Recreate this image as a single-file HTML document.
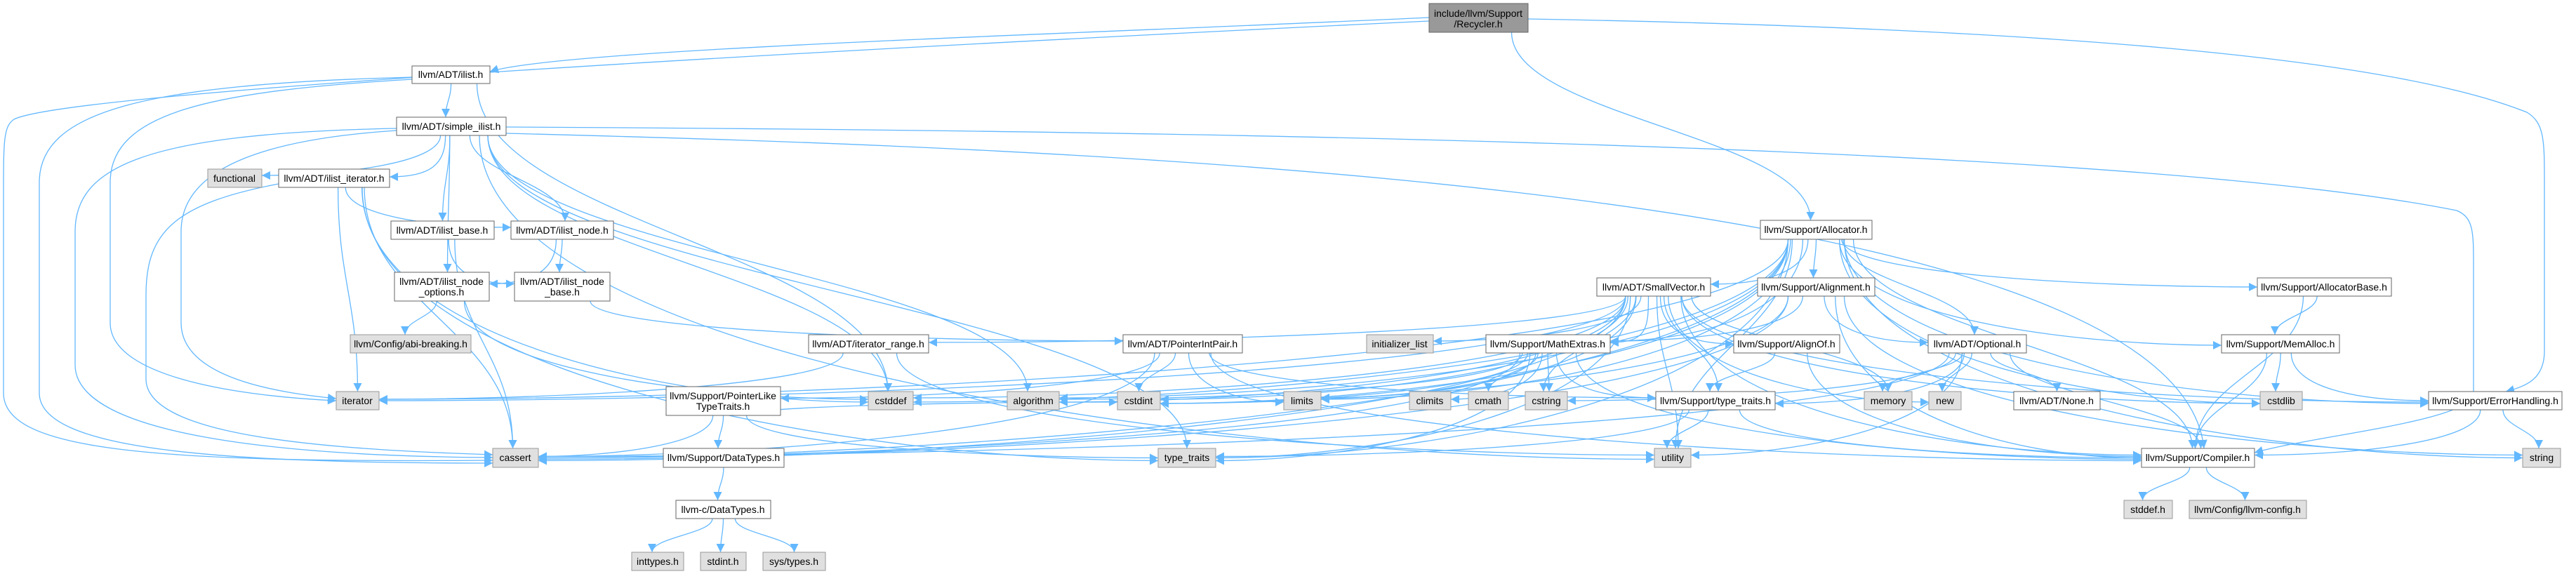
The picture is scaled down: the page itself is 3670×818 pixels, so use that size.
<!DOCTYPE html>
<html><head><meta charset="utf-8"><style>
html,body{margin:0;padding:0;background:#fff;}
svg{display:block;}
text{font-family:"Liberation Sans",Arial,sans-serif;font-size:14px;fill:#000;}
</style></head><body>
<svg id="g" width="3670" height="818" viewBox="0 0 3670 818" xmlns="http://www.w3.org/2000/svg">
<defs><marker id="a" viewBox="0 0 10 10" refX="10" refY="5" markerWidth="14" markerHeight="12" markerUnits="userSpaceOnUse" orient="auto"><path d="M0,0 L10,5 L0,10 z" fill="#63b8ff"/></marker></defs>
<g id="edges" fill="none" stroke="#63b8ff" stroke-width="1.3"></g>
<g id="nodes">
<rect x="2036" y="5" width="141" height="41" fill="#999" stroke="#666"/><text x="2106" y="24" text-anchor="middle">include/llvm/Support</text><text x="2106" y="39" text-anchor="middle">/Recycler.h</text>
<rect x="587" y="94" width="111" height="25" fill="#fff" stroke="#666"/><text x="642" y="111" text-anchor="middle">llvm/ADT/ilist.h</text>
<rect x="565" y="167" width="156" height="26" fill="#fff" stroke="#666"/><text x="643" y="185" text-anchor="middle">llvm/ADT/simple_ilist.h</text>
<rect x="296" y="241" width="77" height="26" fill="#e0e0e0" stroke="#999"/><text x="334" y="259" text-anchor="middle">functional</text>
<rect x="397" y="241" width="158" height="26" fill="#fff" stroke="#666"/><text x="476" y="259" text-anchor="middle">llvm/ADT/ilist_iterator.h</text>
<rect x="557" y="315" width="147" height="26" fill="#fff" stroke="#666"/><text x="630" y="333" text-anchor="middle">llvm/ADT/ilist_base.h</text>
<rect x="728" y="315" width="146" height="26" fill="#fff" stroke="#666"/><text x="801" y="333" text-anchor="middle">llvm/ADT/ilist_node.h</text>
<rect x="562" y="388" width="135" height="41" fill="#fff" stroke="#666"/><text x="629" y="406" text-anchor="middle">llvm/ADT/ilist_node</text><text x="629" y="421" text-anchor="middle">_options.h</text>
<rect x="733" y="388" width="136" height="41" fill="#fff" stroke="#666"/><text x="801" y="406" text-anchor="middle">llvm/ADT/ilist_node</text><text x="801" y="421" text-anchor="middle">_base.h</text>
<rect x="499" y="477" width="172" height="26" fill="#e0e0e0" stroke="#999"/><text x="585" y="495" text-anchor="middle">llvm/Config/abi-breaking.h</text>
<rect x="479" y="558" width="61" height="26" fill="#e0e0e0" stroke="#999"/><text x="509" y="576" text-anchor="middle">iterator</text>
<rect x="702" y="639" width="65" height="27" fill="#e0e0e0" stroke="#999"/><text x="734" y="657" text-anchor="middle">cassert</text>
<rect x="1152" y="477" width="171" height="26" fill="#fff" stroke="#666"/><text x="1237" y="495" text-anchor="middle">llvm/ADT/iterator_range.h</text>
<rect x="1600" y="477" width="170" height="26" fill="#fff" stroke="#666"/><text x="1685" y="495" text-anchor="middle">llvm/ADT/PointerIntPair.h</text>
<rect x="949" y="551" width="163" height="41" fill="#fff" stroke="#666"/><text x="1030" y="569" text-anchor="middle">llvm/Support/PointerLike</text><text x="1030" y="584" text-anchor="middle">TypeTraits.h</text>
<rect x="1237" y="558" width="64" height="26" fill="#e0e0e0" stroke="#999"/><text x="1269" y="576" text-anchor="middle">cstddef</text>
<rect x="1435" y="558" width="74" height="26" fill="#e0e0e0" stroke="#999"/><text x="1472" y="576" text-anchor="middle">algorithm</text>
<rect x="1592" y="558" width="61" height="26" fill="#e0e0e0" stroke="#999"/><text x="1622" y="576" text-anchor="middle">cstdint</text>
<rect x="945" y="639" width="172" height="27" fill="#fff" stroke="#666"/><text x="1031" y="657" text-anchor="middle">llvm/Support/DataTypes.h</text>
<rect x="1650" y="639" width="82" height="27" fill="#e0e0e0" stroke="#999"/><text x="1691" y="657" text-anchor="middle">type_traits</text>
<rect x="963" y="713" width="135" height="26" fill="#fff" stroke="#666"/><text x="1030" y="731" text-anchor="middle">llvm-c/DataTypes.h</text>
<rect x="900" y="787" width="74" height="26" fill="#e0e0e0" stroke="#999"/><text x="937" y="805" text-anchor="middle">inttypes.h</text>
<rect x="998" y="787" width="65" height="26" fill="#e0e0e0" stroke="#999"/><text x="1030" y="805" text-anchor="middle">stdint.h</text>
<rect x="1087" y="787" width="89" height="26" fill="#e0e0e0" stroke="#999"/><text x="1131" y="805" text-anchor="middle">sys/types.h</text>
<rect x="2508" y="314" width="159" height="27" fill="#fff" stroke="#666"/><text x="2587" y="332" text-anchor="middle">llvm/Support/Allocator.h</text>
<rect x="2275" y="396" width="162" height="26" fill="#fff" stroke="#666"/><text x="2356" y="414" text-anchor="middle">llvm/ADT/SmallVector.h</text>
<rect x="2504" y="396" width="167" height="26" fill="#fff" stroke="#666"/><text x="2587" y="414" text-anchor="middle">llvm/Support/Alignment.h</text>
<rect x="1947" y="477" width="95" height="26" fill="#e0e0e0" stroke="#999"/><text x="1994" y="495" text-anchor="middle">initializer_list</text>
<rect x="2117" y="477" width="177" height="26" fill="#fff" stroke="#666"/><text x="2205" y="495" text-anchor="middle">llvm/Support/MathExtras.h</text>
<rect x="2470" y="477" width="151" height="26" fill="#fff" stroke="#666"/><text x="2545" y="495" text-anchor="middle">llvm/Support/AlignOf.h</text>
<rect x="1829" y="558" width="53" height="26" fill="#e0e0e0" stroke="#999"/><text x="1855" y="576" text-anchor="middle">limits</text>
<rect x="2008" y="558" width="59" height="26" fill="#e0e0e0" stroke="#999"/><text x="2037" y="576" text-anchor="middle">climits</text>
<rect x="2092" y="558" width="57" height="26" fill="#e0e0e0" stroke="#999"/><text x="2120" y="576" text-anchor="middle">cmath</text>
<rect x="2173" y="558" width="60" height="26" fill="#e0e0e0" stroke="#999"/><text x="2203" y="576" text-anchor="middle">cstring</text>
<rect x="2359" y="558" width="170" height="26" fill="#fff" stroke="#666"/><text x="2444" y="576" text-anchor="middle">llvm/Support/type_traits.h</text>
<rect x="2656" y="558" width="68" height="26" fill="#e0e0e0" stroke="#999"/><text x="2690" y="576" text-anchor="middle">memory</text>
<rect x="2357" y="639" width="52" height="27" fill="#e0e0e0" stroke="#999"/><text x="2383" y="657" text-anchor="middle">utility</text>
<rect x="2747" y="477" width="140" height="26" fill="#fff" stroke="#666"/><text x="2817" y="495" text-anchor="middle">llvm/ADT/Optional.h</text>
<rect x="2748" y="558" width="46" height="26" fill="#e0e0e0" stroke="#999"/><text x="2771" y="576" text-anchor="middle">new</text>
<rect x="2869" y="558" width="123" height="26" fill="#fff" stroke="#666"/><text x="2930" y="576" text-anchor="middle">llvm/ADT/None.h</text>
<rect x="3165" y="477" width="168" height="26" fill="#fff" stroke="#666"/><text x="3249" y="495" text-anchor="middle">llvm/Support/MemAlloc.h</text>
<rect x="3216" y="396" width="191" height="26" fill="#fff" stroke="#666"/><text x="3311" y="414" text-anchor="middle">llvm/Support/AllocatorBase.h</text>
<rect x="3220" y="558" width="60" height="26" fill="#e0e0e0" stroke="#999"/><text x="3250" y="576" text-anchor="middle">cstdlib</text>
<rect x="3460" y="558" width="190" height="26" fill="#fff" stroke="#666"/><text x="3555" y="576" text-anchor="middle">llvm/Support/ErrorHandling.h</text>
<rect x="3051" y="639" width="161" height="27" fill="#fff" stroke="#666"/><text x="3131" y="657" text-anchor="middle">llvm/Support/Compiler.h</text>
<rect x="3594" y="639" width="54" height="27" fill="#e0e0e0" stroke="#999"/><text x="3621" y="657" text-anchor="middle">string</text>
<rect x="3026" y="713" width="69" height="26" fill="#e0e0e0" stroke="#999"/><text x="3060" y="731" text-anchor="middle">stddef.h</text>
<rect x="3119" y="713" width="167" height="26" fill="#e0e0e0" stroke="#999"/><text x="3202" y="731" text-anchor="middle">llvm/Config/llvm-config.h</text>
</g>
</svg>
<script>
var N={R:[2036,5,2177,46],ilist:[587,94,698,119],sil:[565,167,721,193],func:[296,241,373,267],iit:[397,241,555,267],ibase:[557,315,704,341],inode:[728,315,874,341],iopt:[562,388,697,429],inb:[733,388,869,429],abi:[499,477,671,503],iter:[479,558,540,584],cassert:[702,639,767,666],irange:[1152,477,1323,503],pip:[1600,477,1770,503],plt:[949,551,1112,592],cstddef:[1237,558,1301,584],algorithm:[1435,558,1509,584],cstdint:[1592,558,1653,584],dt:[945,639,1117,666],tt:[1650,639,1732,666],cdt:[963,713,1098,739],inttypes:[900,787,974,813],stdint:[998,787,1063,813],systypes:[1087,787,1176,813],alloc:[2508,314,2667,341],sv:[2275,396,2437,422],align:[2504,396,2671,422],initl:[1947,477,2042,503],math:[2117,477,2294,503],alignof:[2470,477,2621,503],limits:[1829,558,1882,584],climits:[2008,558,2067,584],cmath:[2092,558,2149,584],cstring:[2173,558,2233,584],stt:[2359,558,2529,584],memory:[2656,558,2724,584],utility:[2357,639,2409,666],opt:[2747,477,2887,503],"new":[2748,558,2794,584],none:[2869,558,2992,584],memalloc:[3165,477,3333,503],abase:[3216,396,3407,422],cstdlib:[3220,558,3280,584],eh:[3460,558,3650,584],comp:[3051,639,3212,666],string:[3594,639,3648,666],stddef:[3026,713,3095,739],lcfg:[3119,713,3286,739]};
var E={R:"alloc",ilist:"sil cstddef",sil:"func iit ibase inode iopt algorithm cstddef tt utility",iit:"inode cassert iter cstddef tt",ibase:"inb cassert",inode:"iopt inb",iopt:"abi cstddef",inb:"pip",
alloc:"sv align abase memalloc eh comp opt cassert cstddef cstdint algorithm iter tt utility cstdlib math limits string",
sv:"initl math alignof stt utility limits cstring memory new cstdlib comp irange iter algorithm cassert cstddef cstdint tt eh",
align:"math opt comp cassert cstdint string",math:"limits climits cmath cstring cstdint stt algorithm cassert comp tt",alignof:"stt comp",stt:"utility tt comp",opt:"memory new none comp stt utility cassert cstring",memalloc:"cstdlib comp eh",abase:"memalloc comp",eh:"comp string",comp:"stddef lcfg",pip:"plt cassert cstdint limits comp stt",plt:"dt cassert tt cstdint",dt:"cdt",cdt:"inttypes stdint systypes",irange:"utility iter"};
var g=document.getElementById('edges'),out='';
var custom=[
'M2036,25 C1500,50 800,70 698,102',
'M2036,30 C1200,70 100,130 20,170 C5,180 5,200 5,280 L5,560 C5,640 200,660 702,656',
'M2177,27 C2900,40 3400,80 3600,160 C3625,175 3625,200 3625,260 L3625,500 C3625,540 3600,550 3570,558',
'M721,181 C1500,185 3000,200 3500,300 C3524,310 3524,330 3524,380 L3524,560 C3524,600 3300,620 3212,645',
'M587,110 C200,120 56,160 56,260 L56,560 C56,640 300,660 702,660',
'M587,113 C300,130 157,160 157,260 L157,460 C157,540 350,565 479,571',
'M565,183 C200,190 107,240 107,330 L107,520 C107,620 400,650 702,652',
'M565,186 C350,200 258,250 258,330 L258,460 C258,540 400,560 479,568',
'M397,262 C250,290 208,330 208,420 L208,540 C208,620 450,640 702,648',
'M721,190 C1500,210 3100,260 3140,639'
];
custom.forEach(function(d){out+='<path d="'+d+'" marker-end="url(#a)"/>';});
for(var s in E){E[s].split(' ').forEach(function(t,i){var a=N[s],b=N[t];
var scx=(a[0]+a[2])/2,tcx=(b[0]+b[2])/2,sy=a[3],ty=b[1],dx=tcx-scx,dy=ty-sy,d;
var off=((i%5)-2)*4;
if(Math.abs(dx)>2.5*dy){var tx=dx>0?b[0]:b[2],tyy=(b[1]+b[3])/2+off*0.5;var sx=scx+Math.max(-40,Math.min(40,dx/20));
d='M'+sx+','+sy+' C'+sx+','+(sy+(tyy-sy)*0.7)+' '+(tx-dx*0.35)+','+tyy+' '+tx+','+tyy;}
else{var sx=scx+Math.max(-(a[2]-a[0])/3,Math.min((a[2]-a[0])/3,dx/6));var tx=tcx+off;
d='M'+sx+','+sy+' C'+sx+','+(sy+dy*0.45)+' '+tx+','+(ty-dy*0.45)+' '+tx+','+ty;}
out+='<path d="'+d+'" marker-end="url(#a)"/>';});}
g.innerHTML=out;
</script>
</body></html>
